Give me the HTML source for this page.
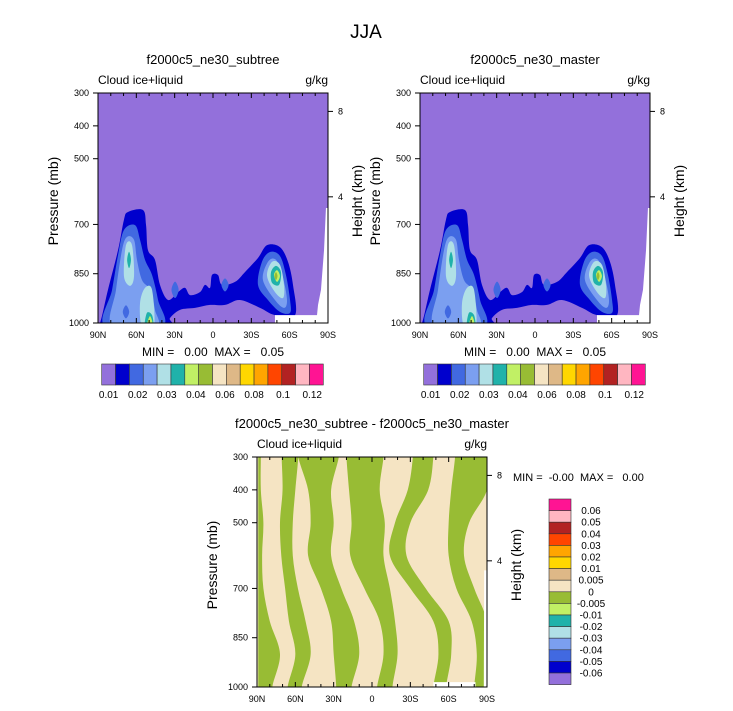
<!DOCTYPE html>
<html><head><meta charset="utf-8">
<style>
html,body{margin:0;padding:0;background:#fff;}
svg{display:block;font-family:"Liberation Sans",Arial,sans-serif;}
.pre{white-space:pre;}
</style></head>
<body>
<svg id="fig" width="733" height="711" viewBox="0 0 733 711">
<text x="366" y="38" font-size="19" text-anchor="middle">JJA</text>
</svg>
<script>
const NS="http://www.w3.org/2000/svg";
const svg=document.getElementById('fig');
// ---- data ----
const latTicks=[90,60,30,0,-30,-60,-90];
const latTickLabels=["90N","60N","30N","0","30S","60S","90S"];
const presTicks=[300,400,500,700,850,1000];
const heightTicks=[8,4];
const heightTickPres=[356,616];
const panelTitles=["f2000c5_ne30_subtree","f2000c5_ne30_master"];
const diffTitle="f2000c5_ne30_subtree - f2000c5_ne30_master";
const fieldColors=["#9370DB","#0000CD","#4169E1","#7B9FF0","#B0E0E6","#20B2AA","#C1F065","#98BC34","#F5E4C3","#DEB887","#FFD700","#FFA500","#FF4500","#B22222","#FFB6C1","#FF1493"];
const topBarLabels=["0.01","0.02","0.03","0.04","0.06","0.08","0.1","0.12"];
const diffBarLabels=["0.06","0.05","0.04","0.03","0.02","0.01","0.005","0","-0.005","-0.01","-0.02","-0.03","-0.04","-0.05","-0.06"];
const diffBarColors=["#FF1493","#FFB6C1","#B22222","#FF4500","#FFA500","#FFD700","#DEB887","#F5E4C3","#98BC34","#C1F065","#20B2AA","#B0E0E6","#7B9FF0","#4169E1","#0000CD","#9370DB"];
const blobs=[
 [1,[[92,1010],[88.4,1000],[82.2,899],[74.3,778],[69.7,686],[66.5,662],[54.8,656],[52.4,702],[50.9,778],[45.4,808],[41.5,884],[35.2,930],[27.4,906],[21.9,893],[18,915],[10.2,906],[6.3,884],[2.3,893],[0.8,854],[-3.9,854],[-7,884],[-17.2,875],[-25,845],[-35.2,802],[-42.3,763],[-52.4,769],[-58.7,814],[-62.6,884],[-64.2,976],[-48.5,976],[-36.8,954],[-21.1,930],[-9.4,945],[2.3,945],[14.1,954],[25.8,960],[33.7,985],[36,1010]]],
 [2,[[84.5,1010],[79,899],[74.3,793],[69.7,717],[61,702],[57.1,747],[53.2,808],[47.7,854],[43,930],[39.9,1010]]],
 [2,[[32.5,899],[29.7,874],[26.9,899],[29.7,924]]],
 [2,[[-6.6,884],[-9.4,864],[-12.2,884],[-9.4,904]]],
 [2,[[-35.2,884],[-38.3,814],[-44.6,784],[-52.4,796],[-57.1,854],[-60.3,930],[-60.3,969],[-52.4,966],[-43,930]]],
 [3,[[79,1010],[75.9,899],[71.2,778],[67.3,738],[61.8,747],[59.5,808],[55.6,869],[49.3,899],[45.4,960],[44.6,1010]]],
 [3,[[-39.1,869],[-43,814],[-49.3,808],[-54.8,863],[-57.9,930],[-55.6,954],[-48.5,930]]],
 [2,[[70.6,966],[68.1,946],[65.6,966],[68.1,986]]],
 [4,[[69.7,857],[68.1,763],[63.4,763],[61.8,857],[65,887]]],
 [4,[[57.1,939],[53.2,893],[47.7,899],[46.2,1010],[55.6,1010]]],
 [4,[[-42.3,857],[-46.2,814],[-52.4,823],[-55.6,884],[-54.8,924],[-48.5,906]]],
 [5,[[67.2,808],[65.7,783],[64.2,808],[65.7,833]]],
 [5,[[53.2,1010],[51.7,969],[47.7,976],[47,1010]]],
 [5,[[-45.4,845],[-49.3,826],[-53.2,845],[-51.7,884],[-46.2,878]]],
 [6,[[51.7,1010],[49.3,979],[47,1010]]],
 [6,[[-47.7,854],[-50.1,839],[-52.4,857],[-50.1,875]]],
 [7,[[-48.1,857],[-49.3,845],[-50.5,857],[-49.3,869]]]
];
const missingTop=[[-90,650],[-88.4,650],[-86.9,778],[-84.5,899],[-82.2,945],[-81.4,976],[-48.5,976],[-48.5,1000],[-90,1000]];
const diffPres=[300,400,500,600,700,800,900,1000];
const diffBands=[
 [[89,87],[89,87],[89,85],[89,86],[89,85],[89,80],[89,72],[89,78]],
 [[70.7,57.7],[70,60],[72,62],[71,62],[68,58],[65,52],[60,48],[66,55]],
 [[57.7,26],[50,32],[48,30],[50,32],[40,24],[32,14],[30,10],[28,16]],
 [[20,-9],[18,-6],[16,-10],[17,-9],[6,-14],[-6,-18],[-9,-20],[-4,-16]],
 [[-32,-48],[-28,-44],[-18,-30],[-14,-27],[-30,-42],[-48,-60],[-52,-62],[-48,-58]],
 [[-65,-90],[-62,-90],[-60,-76],[-60,-72],[-66,-80],[-78,-90],[-82,-90],[-80,-90]]
];
const missingDiff=[[-90,645],[-87.8,645],[-87.5,1000],[-90,1000]];
const missingDiff2=[[-48,985],[-81,985],[-81,1000],[-48,1000]];
// ---- helpers ----
function el(tag,attrs,parent){const e=document.createElementNS(NS,tag);for(const k in attrs)e.setAttribute(k,attrs[k]);(parent||svg).appendChild(e);return e;}
function mkX(x0,w){return lat=>x0+(90-lat)/180*w;}
function mkY(y0,h){return p=>y0+(p-300)/700*h;}
function smooth(pts){const n=pts.length;let d=`M${pts[0][0]},${pts[0][1]}`;for(let i=0;i<n;i++){const p0=pts[(i-1+n)%n],p1=pts[i],p2=pts[(i+1)%n],p3=pts[(i+2)%n];d+=`C${p1[0]+(p2[0]-p0[0])/6},${p1[1]+(p2[1]-p0[1])/6} ${p2[0]-(p3[0]-p1[0])/6},${p2[1]-(p3[1]-p1[1])/6} ${p2[0]},${p2[1]}`;}return d+'Z';}
let clipId=0;
function axes(x0,y0,w,h,title){
  const X=mkX(x0,w),Y=mkY(y0,h);
  const t=el('text',{x:x0+w/2,y:y0-29,'font-size':13,'text-anchor':'middle'});t.textContent=title;
  
  const a=el('text',{x:x0,y:y0-9,'font-size':12});a.textContent='Cloud ice+liquid';
  
  const u=el('text',{x:x0+w,y:y0-9,'font-size':12,'text-anchor':'end'});u.textContent='g/kg';
  
  el('rect',{x:x0,y:y0,width:w,height:h,fill:'none',stroke:'#000','stroke-width':1});
  for(let lat=90;lat>=-90;lat-=10){const x=X(lat),L=lat%30===0?5:3;
    el('line',{x1:x,y1:y0+h,x2:x,y2:y0+h-L,stroke:'#000','stroke-width':1});
    el('line',{x1:x,y1:y0,x2:x,y2:y0+L,stroke:'#000','stroke-width':1});}
  latTicks.forEach((lat,i)=>{const tx=el('text',{x:X(lat),y:y0+h+15,'font-size':9,'text-anchor':'middle'});tx.textContent=latTickLabels[i];
    });
  presTicks.forEach(p=>{el('line',{x1:x0,y1:Y(p),x2:x0-5,y2:Y(p),stroke:'#000'});
    const tx=el('text',{x:x0-9,y:Y(p)+3,'font-size':9,'text-anchor':'end'});tx.textContent=p;
    });
  heightTicks.forEach((hk,i)=>{const y=Y(heightTickPres[i]);el('line',{x1:x0+w,y1:y,x2:x0+w+5,y2:y,stroke:'#000'});
    const tx=el('text',{x:x0+w+10,y:y+3,'font-size':9});tx.textContent=hk;
    });
  const yl=el('text',{transform:`translate(${x0-40},${y0+h/2-7}) rotate(-90)`,'font-size':14,'text-anchor':'middle'});yl.textContent='Pressure (mb)';
  
  const hl=el('text',{transform:`translate(${x0+w+34},${y0+h/2-7}) rotate(-90)`,'font-size':14,'text-anchor':'middle'});hl.textContent='Height (km)';
  
  return {X,Y};
}
function field(x0,y0,w,h){
  const X=mkX(x0,w),Y=mkY(y0,h);const id='c'+(clipId++);
  const cp=el('clipPath',{id});el('rect',{x:x0,y:y0,width:w,height:h},cp);
  const g=el('g',{'clip-path':`url(#${id})`});
  
  el('rect',{x:x0,y:y0,width:w,height:h,fill:fieldColors[0]},g);
  blobs.forEach(b=>{const p=el('path',{d:smooth(b[1].map(q=>[X(q[0]),Y(q[1])])),fill:fieldColors[b[0]]},g);
    });
  const m=el('polygon',{points:missingTop.map(q=>X(q[0])+','+Y(q[1])).join(' '),fill:'#fff'},g);
  
}
function topBar(x0,y0){
  const bw=13.85,n=16;
  for(let i=0;i<n;i++){const r=el('rect',{x:x0+i*bw,y:y0,width:bw,height:21,fill:fieldColors[i],stroke:'#333','stroke-width':0.6});
    }
  topBarLabels.forEach((s,k)=>{const t=el('text',{x:x0+(0.5+2.1*k)*bw,y:y0+34,'font-size':10,'text-anchor':'middle'});t.textContent=s;
    });
}
[[98,93],[420,93]].forEach((o,i)=>{
  field(o[0],o[1],230,230);axes(o[0],o[1],230,230,panelTitles[i]);
  const mm=el('text',{x:o[0]+115,y:o[1]+263,'font-size':12,'text-anchor':'middle','class':'pre'});mm.textContent='MIN =   0.00  MAX =   0.05';
  
  topBar(o[0]+3.7,o[1]+271);
});
(function(){
  const x0=257,y0=457,w=230,h=230;const X=mkX(x0,w),Y=mkY(y0,h);const id='c'+(clipId++);
  const cp=el('clipPath',{id});el('rect',{x:x0,y:y0,width:w,height:h},cp);
  const g=el('g',{'clip-path':`url(#${id})`});
  
  el('rect',{x:x0,y:y0,width:w,height:h,fill:'#F5E4C3'},g);
  diffBands.forEach(b=>{
    const n=b.length;
    const left=b.map((q,i)=>[X(q[0]),Y(diffPres[i])]);const right=b.map((q,i)=>[X(q[1]),Y(diffPres[i])]).reverse();
    const pts=[[left[0][0],y0-20],...left,[left[n-1][0],y0+h+20],[right[0][0],y0+h+20],...right,[right[n-1][0],y0-20]];
    const p=el('path',{d:smooth(pts),fill:'#98BC34'},g);
    });
  [missingDiff,missingDiff2].forEach(m=>{const pg=el('polygon',{points:m.map(q=>X(q[0])+','+Y(q[1])).join(' '),fill:'#fff'},g);
    });
  axes(x0,y0,w,h,diffTitle);
  const mm=el('text',{x:513,y:481,'font-size':11,'class':'pre'});mm.textContent='MIN =  -0.00  MAX =   0.00';
  
  const bx=549,by=499,bh=11.6;
  diffBarColors.forEach((c,i)=>{const r=el('rect',{x:bx,y:by+i*bh,width:22,height:bh,fill:c,stroke:'#333','stroke-width':0.6});
    });
  diffBarLabels.forEach((s,i)=>{const t=el('text',{x:591,y:by+(i+1)*bh+3.5,'font-size':10,'text-anchor':'middle'});t.textContent=s;
    });
})();
</script>
</body></html>
